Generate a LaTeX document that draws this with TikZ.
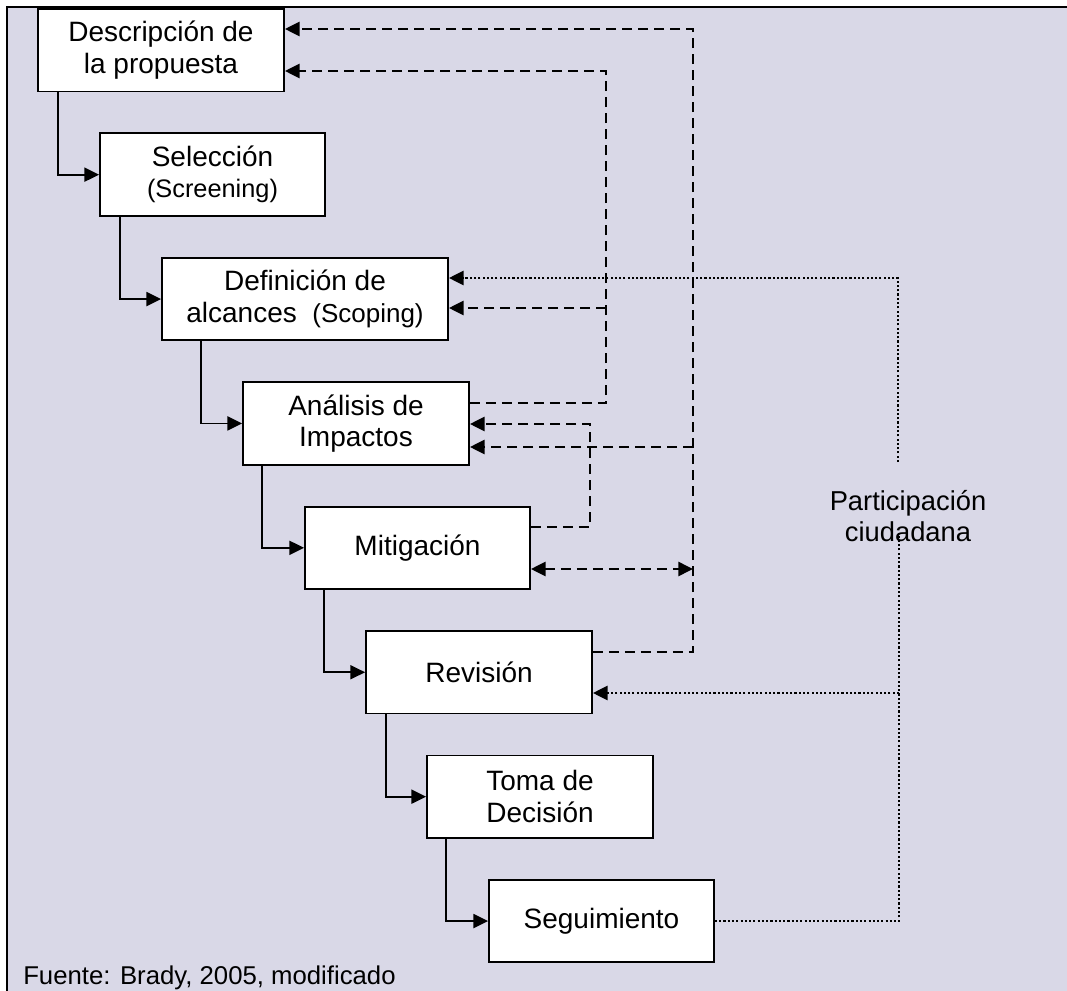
\documentclass[tikz,border=0pt]{standalone}
\usepackage{fontspec}
\setmainfont{Liberation Sans}
\usetikzlibrary{arrows.meta,calc}
\definecolor{bgcol}{RGB}{217,216,231}
\begin{document}
\begin{tikzpicture}[x=0.75pt,y=-0.75pt,
  box/.style={draw=black, fill=white, line width=1.35pt, inner sep=0pt, align=center,
    minimum height=82.5*0.75pt, font=\fontsize{21}{23.5}\selectfont},
  flow/.style={line width=1.35pt, -{Triangle[length=11pt,width=10.5pt]}},
  dsh/.style={line width=1.9pt, dash pattern=on 7.5pt off 4.5pt},
  dot/.style={line width=2pt, dash pattern=on 1.6pt off 1.6pt},
  tip/.style={-{Triangle[length=11pt,width=10.5pt]}},
  dtip/.style={{Triangle[length=11pt,width=10.5pt]}-{Triangle[length=11pt,width=10.5pt]}}
]
\useasboundingbox (0,0) rectangle (1067,991);
% background frame
\fill[bgcol] (7,7) rectangle (1080,1000);
\draw[line width=2pt] (7,1000) -- (7,7) -- (1080,7);

% boxes
\node[box, minimum width=246*0.75pt] (b1) at (161,50.25) {Descripción de\\la propuesta};
\node[box, minimum width=225*0.75pt] (sel) at (212.5,174.65) {Selección\\{\fontsize{19}{22}\selectfont (Screening)}};
\node[box, minimum width=286*0.75pt] (def) at (305,299.05) {Definición de\\alcances\ \ {\fontsize{19.5}{22}\selectfont(Scoping)}};
\node[box, minimum width=226*0.75pt] (ana) at (356,423.45) {Análisis de\\Impactos};
\node[box, minimum width=225*0.75pt] (mit) at (417.5,547.85) {Mitigación};
\node[box, minimum width=226*0.75pt] (rev) at (479,672.25) {Revisión};
\node[box, minimum width=226*0.75pt] (tom) at (540,796.65) {Toma de\\Decisión};
\node[box, minimum width=225*0.75pt] (seg) at (601.5,921.05) {Seguimiento};

% main flow
\draw[flow] ($(b1.south west)+(21,0)$) |- (sel.west);
\draw[flow] ($(sel.south west)+(21,0)$) |- (def.west);
\draw[flow] ($(def.south west)+(40,0)$) |- (ana.west);
\draw[flow] ($(ana.south west)+(20,0)$) |- (mit.west);
\draw[flow] ($(mit.south west)+(20,0)$) |- (rev.west);
\draw[flow] ($(rev.south west)+(21,0)$) |- (tom.west);
\draw[flow] ($(tom.south west)+(20,0)$) |- (seg.west);

% dashed feedback
\coordinate (c1) at (693,29);
\coordinate (c2) at (693,447);
\coordinate (c3) at (693,569);
\coordinate (c4) at (606,71);
\coordinate (c5) at (606,403);
\coordinate (c6) at (606,308);
\coordinate (c7) at (590,527);
\coordinate (c8) at (590,424);
\draw[dsh,tip] ($(rev.east)+(0,-20.25)$) -| (c1) -- (c1 -| b1.east);
\draw[dsh,tip] (c2) -- (c2 -| ana.east);
\draw[dsh,dtip] (c3 -| mit.east) -- (c3);
\draw[dsh,tip] (c5 -| ana.east) -- (c5) -- (c4) -- (c4 -| b1.east);
\draw[dsh,tip] (c6) -- (c6 -| def.east);
\draw[dsh,tip] (c7 -| mit.east) -- (c7) -- (c8) -- (c8 -| ana.east);

% citizen participation
\node[align=center, inner sep=0pt, font=\fontsize{20.5}{23.25}\selectfont] (lbl) at (908,516) {Participación\\ciudadana};
\coordinate (p1) at (898,462);
\coordinate (p2) at (898,278);
\coordinate (p3) at (899,533);
\coordinate (p4) at (899,921);
\coordinate (p5) at (899,693);
\draw[dot,tip] (p1) -- (p2) -- (p2 -| def.east);
\draw[dot] (seg.east |- p4) -- (p4) -- (p3);
\draw[dot,tip] (p5) -- (p5 -| rev.east);

% source
\node[anchor=base west, inner sep=0pt, font=\fontsize{19.3}{22}\selectfont] (src) at (23,984.5) {Fuente: Brady, 2005, modificado};
\end{tikzpicture}
\end{document}
